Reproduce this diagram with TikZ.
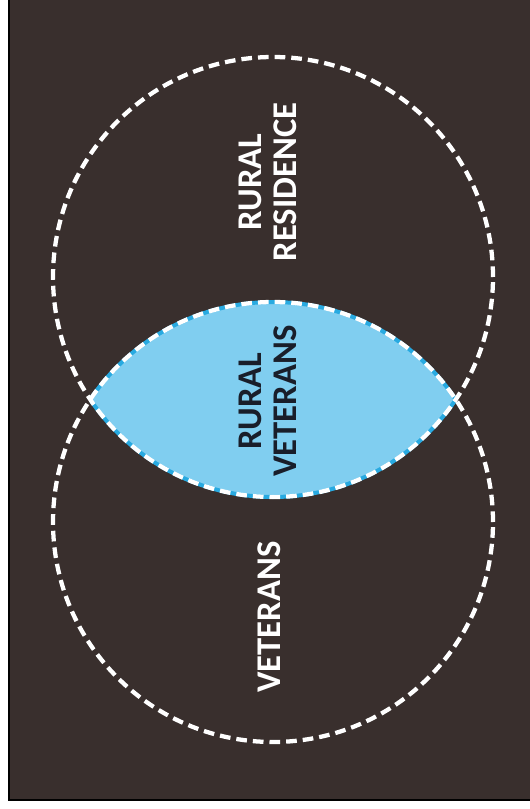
\documentclass[tikz,border=0pt]{standalone}
\usepackage{fontspec}
\setmainfont{Carlito}
\usepackage{tikz}

\definecolor{bgbrown}{RGB}{57,47,45}
\definecolor{lensblue}{RGB}{128,206,240}
\definecolor{lensedge}{RGB}{40,170,225}
\definecolor{labeldark}{RGB}{25,30,42}

\begin{document}
\begin{tikzpicture}[
  x=0.75pt, y=-0.75pt,
  ring/.style={circle, draw=white, line width=3.2pt,
               dash pattern=on 8pt off 4.5pt, minimum size=330pt, inner sep=0pt},
  tag/.style={rotate=90, align=center, font=\fontsize{26}{26}\selectfont\bfseries,
              text=white, inner sep=0pt}]
\useasboundingbox (0,0) rectangle (530,809);
\fill[white] (0,0) rectangle (530,809);
\draw[fill=bgbrown, draw=black, line width=0.8pt] (9,-2) rectangle (532,800);
% overlap of the two sets
\begin{scope}
  \clip (273,277) circle[radius=165pt];
  \fill[lensblue] (273,522) circle[radius=165pt];
  \draw[lensedge, line width=3pt] (273,522) circle[radius=165pt];
\end{scope}
\begin{scope}
  \clip (273,522) circle[radius=165pt];
  \draw[lensedge, line width=3pt] (273,277) circle[radius=165pt];
\end{scope}
\node[ring] (residence) at (273,277) {};
\node[ring] (veterans) at (273,522) {};
\node[tag] (residencetag) at (268,182) {RURAL\\RESIDENCE};
\node[tag, text=labeldark] (overlaptag) at (268,401) {RURAL\\VETERANS};
\node[tag] (veteranstag) at (269,617) {VETERANS};
\end{tikzpicture}
\end{document}
